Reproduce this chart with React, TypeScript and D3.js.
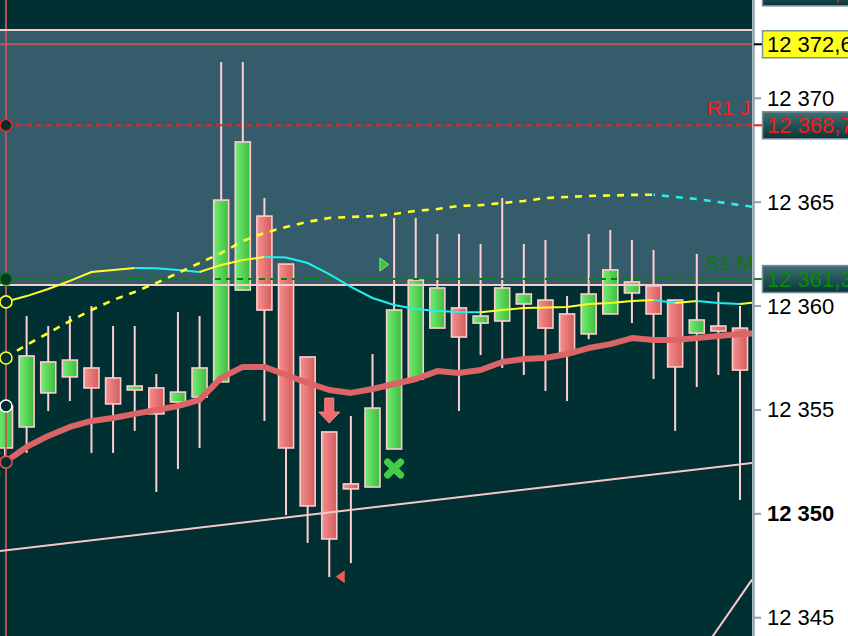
import React from 'react';
import * as d3 from 'd3';

const W = 848;
const H = 636;
const PLOT_RIGHT = 752;

// ---- candle data (index 0..34) ----
const opens = [12353.17, 12354.18, 12355.82, 12356.59, 12357.02, 12356.54, 12355.96, 12356.06, 12355.38, 12355.62, 12356.35, 12360.77, 12364.33, 12362.02, 12357.55, 12353.94, 12351.44, 12351.29, 12353.12, 12356.49, 12358.94, 12359.91, 12359.18, 12359.28, 12360.10, 12360.29, 12359.62, 12358.66, 12359.62, 12360.63, 12360.97, 12360.29, 12358.70, 12359.04, 12358.94];
const highs = [12355.25, 12359.52, 12359.04, 12359.52, 12360.00, 12359.04, 12359.04, 12356.73, 12359.71, 12359.52, 12371.75, 12371.75, 12365.20, 12362.02, 12357.55, 12353.94, 12354.71, 12357.69, 12364.24, 12364.24, 12363.47, 12363.47, 12362.99, 12365.20, 12362.99, 12363.18, 12360.48, 12363.47, 12363.66, 12363.18, 12362.70, 12360.29, 12362.51, 12360.68, 12360.00];
const lows = [12352.69, 12352.93, 12354.95, 12355.43, 12352.93, 12352.93, 12353.99, 12351.05, 12352.16, 12353.17, 12356.35, 12360.77, 12354.47, 12349.94, 12348.60, 12346.96, 12347.63, 12351.29, 12353.12, 12356.49, 12358.94, 12354.95, 12357.64, 12357.02, 12356.68, 12355.91, 12355.43, 12358.41, 12359.62, 12359.18, 12356.49, 12353.99, 12356.10, 12356.68, 12350.67];
const closes = [12355.19, 12357.60, 12357.31, 12357.40, 12356.06, 12355.29, 12356.15, 12354.81, 12355.86, 12357.02, 12365.10, 12367.90, 12359.81, 12353.17, 12350.38, 12348.79, 12351.20, 12355.09, 12359.81, 12361.25, 12360.87, 12358.51, 12359.52, 12360.87, 12360.58, 12358.94, 12357.69, 12360.58, 12361.74, 12361.16, 12359.62, 12357.07, 12359.33, 12358.80, 12356.92];

// ---- indicator lines (index 0..35) ----
const maLine = [12352.49, 12353.22, 12353.75, 12354.18, 12354.47, 12354.61, 12354.81, 12355.00, 12355.19, 12355.48, 12356.54, 12357.07, 12357.07, 12356.68, 12356.30, 12355.96, 12355.82, 12356.01, 12356.25, 12356.49, 12356.87, 12356.78, 12356.92, 12357.31, 12357.45, 12357.50, 12357.69, 12357.98, 12358.17, 12358.46, 12358.37, 12358.37, 12358.46, 12358.56, 12358.66, 12358.70];
const trendSolid = [12360.20, 12360.48, 12360.82, 12361.21, 12361.64, 12361.74, 12361.83, 12361.82, 12361.74, 12361.64, 12361.98, 12362.22, 12362.36, 12362.34, 12362.07, 12361.54, 12360.92, 12360.39, 12360.05, 12359.86, 12359.76, 12359.71, 12359.70, 12359.81, 12359.91, 12359.93, 12359.96, 12360.10, 12360.15, 12360.24, 12360.29, 12360.15, 12360.24, 12360.15, 12360.10, 12360.20];
const trendDashed = [12357.50, 12358.13, 12358.70, 12359.28, 12359.81, 12360.29, 12360.68, 12361.11, 12361.59, 12362.07, 12362.55, 12363.13, 12363.52, 12363.81, 12364.05, 12364.24, 12364.29, 12364.33, 12364.43, 12364.58, 12364.67, 12364.82, 12364.86, 12364.96, 12365.06, 12365.20, 12365.25, 12365.30, 12365.32, 12365.35, 12365.36, 12365.25, 12365.15, 12365.01, 12364.86, 12364.72];

// ---- levels ----
const zoneTop = 12373.29;
const zoneBottom = 12361.01;
const redLevel = 12372.6;
const r1Level = 12368.7;
const s1Level = 12361.3;
const r1Text = 'R1 J';
const s1Text = 'S1 M';

// trend lines: [index, price] pairs
const trendLines = [
  [[0, 12348.24], [34, 12352.38]],
  [[33, 12344.5], [34, 12346.0]],
];

const yTicks = [12345, 12350, 12355, 12360, 12365, 12370];
const boldTick = 12350;
const tickLabels = ['12 345', '12 350', '12 355', '12 360', '12 365', '12 370'];

const priceLabels = [
  { value: 12375.1, text: '12 375,1', kind: 'dark', color: '#ff1414' },
  { value: 12372.6, text: '12 372,6', kind: 'yellow', color: '#000000' },
  { value: 12368.7, text: '12 368,7', kind: 'dark', color: '#ff1414' },
  { value: 12361.3, text: '12 361,3', kind: 'dark', color: '#0a8a0a' },
];

// markers
const arrowDown = { index: 15, price: 12355.57 };
const triRight = { index: 17.55, price: 12362.0 };
const crossMark = { index: 18, price: 12352.18 };
const triLeft = { index: 15, price: 12346.97 };

const YELLOW = '#ffff2a';
const CYAN = '#1ff0f0';
const FONT = "'Liberation Sans', Arial, sans-serif";

const x = d3.scaleLinear().domain([0, 34]).range([5, 740]);
const y = d3.scaleLinear().domain([12345, 12370]).range([617.7, 98.3]);

function colorRuns(values: number[]) {
  const pts = values.map((v, i) => [x(i), y(v)] as [number, number]);
  const runs: { color: string; pts: [number, number][]; offset: number }[] = [];
  let cum = 0;
  for (let i = 0; i < pts.length - 1; i++) {
    const color = values[i + 1] > values[i] ? YELLOW : CYAN;
    const last = runs[runs.length - 1];
    if (last && last.color === color) {
      last.pts.push(pts[i + 1]);
    } else {
      runs.push({ color, pts: [pts[i], pts[i + 1]], offset: cum });
    }
    cum += Math.hypot(pts[i + 1][0] - pts[i][0], pts[i + 1][1] - pts[i][1]);
  }
  return runs;
}

export default function App() {
  const line = d3.line<[number, number]>().x((d) => d[0]).y((d) => d[1]);
  const maPath = d3.line<number>().x((_, i) => x(i)).y((d) => y(d))(maLine) || '';
  const solidRuns = colorRuns(trendSolid);
  const dashedRuns = colorRuns(trendDashed);
  const bw = 15;
  const leftX = x(0) + 1;

  const startCircles = [
    { v: r1Level, stroke: '#ff2020', fill: '#01302f' },
    { v: s1Level, stroke: '#0a7a0a', fill: '#063a22' },
    { v: trendSolid[0], stroke: YELLOW, fill: '#01302f' },
    { v: trendDashed[0], stroke: YELLOW, fill: '#01302f' },
    { v: closes[0], stroke: '#ffffff', fill: '#01302f' },
    { v: maLine[0], stroke: '#e05050', fill: '#01302f' },
  ];

  const extend = (seg: number[][]) => {
    const [a, b] = seg;
    const slope = (b[1] - a[1]) / (b[0] - a[0]);
    const i0 = x.invert(0);
    const i1 = x.invert(PLOT_RIGHT);
    return [
      [x(i0), y(a[1] + slope * (i0 - a[0]))],
      [x(i1), y(a[1] + slope * (i1 - a[0]))],
    ];
  };

  const ax = x(arrowDown.index);
  const ay = y(arrowDown.price);
  const tx = x(triRight.index);
  const ty = y(triRight.price);
  const cx = x(crossMark.index);
  const cy = y(crossMark.price);
  const lx = x(triLeft.index) + 11;
  const ly = y(triLeft.price);

  return (
    <div>
      <style>{`body{margin:0;}`}</style>
      <svg width={W} height={H} style={{ display: 'block' }} fontFamily={FONT}>
        <defs>
          <linearGradient id="gGreen" x1="0" x2="1" y1="0" y2="0">
            <stop offset="0" stopColor="#74ec74" />
            <stop offset="1" stopColor="#3dbd3d" />
          </linearGradient>
          <linearGradient id="gRed" x1="0" x2="1" y1="0" y2="0">
            <stop offset="0" stopColor="#f69090" />
            <stop offset="1" stopColor="#d45c5c" />
          </linearGradient>
          <linearGradient id="gLabel" x1="0" x2="0" y1="0" y2="1">
            <stop offset="0" stopColor="#416f74" />
            <stop offset="1" stopColor="#07373a" />
          </linearGradient>
          <clipPath id="plotClip">
            <rect x={0} y={0} width={PLOT_RIGHT} height={H} />
          </clipPath>
        </defs>

        <rect x={0} y={0} width={W} height={H} fill="#ffffff" />
        <g clipPath="url(#plotClip)">
          <rect x={0} y={0} width={PLOT_RIGHT} height={H} fill="#013033" />
          <rect x={0} y={y(zoneTop)} width={PLOT_RIGHT} height={y(zoneBottom) - y(zoneTop)} fill="#355c6b" />

          {/* candles */}
          {opens.map((o, i) => {
            const c = closes[i];
            const up = c >= o;
            const top = y(Math.max(o, c));
            const bot = y(Math.min(o, c));
            return (
              <g key={i}>
                <line x1={x(i)} x2={x(i)} y1={y(highs[i])} y2={y(lows[i])} stroke="#ffd0d0" strokeWidth={2} />
                <rect
                  x={x(i) - bw / 2}
                  y={top}
                  width={bw}
                  height={Math.max(bot - top, 3)}
                  fill={up ? 'url(#gGreen)' : 'url(#gRed)'}
                  stroke="#ffcccc"
                  strokeWidth={1.6}
                />
              </g>
            );
          })}

          {/* left vertical */}
          <line x1={leftX} x2={leftX} y1={0} y2={H} stroke="#c05858" strokeWidth={2} opacity={0.9} />

          {/* horizontal levels */}
          <line x1={0} x2={PLOT_RIGHT} y1={y(zoneTop)} y2={y(zoneTop)} stroke="#f6cccc" strokeWidth={2} />
          <line x1={0} x2={PLOT_RIGHT} y1={y(redLevel)} y2={y(redLevel)} stroke="#b85a5e" strokeWidth={2} />
          <line x1={0} x2={PLOT_RIGHT} y1={y(zoneBottom)} y2={y(zoneBottom)} stroke="#f6cccc" strokeWidth={2} />
          <line x1={leftX} x2={PLOT_RIGHT} y1={y(r1Level)} y2={y(r1Level)} stroke="#ff1a1a" strokeWidth={2} strokeDasharray="6,4" />
          <line x1={leftX} x2={PLOT_RIGHT} y1={y(s1Level)} y2={y(s1Level)} stroke="#0a7f0a" strokeWidth={2} strokeDasharray="6,5" />

          <text x={750} y={y(r1Level) - 10} textAnchor="end" fontSize={21} fill="#ff1a1a">{r1Text}</text>
          <text x={754} y={y(s1Level) - 9} textAnchor="end" fontSize={21} fill="#0a7a0a">{s1Text}</text>

          {/* trend lines */}
          {trendLines.map((seg, i) => {
            const [p0, p1] = extend(seg);
            return <line key={i} x1={p0[0]} y1={p0[1]} x2={p1[0]} y2={p1[1]} stroke="#f8c8c8" strokeWidth={2} />;
          })}

          {/* MA */}
          <path d={maPath} fill="none" stroke="#dd6466" strokeWidth={6} strokeLinejoin="round" />

          {/* solid two-colour line */}
          {solidRuns.map((r, i) => (
            <path key={i} d={line(r.pts) || ''} fill="none" stroke={r.color} strokeWidth={2} />
          ))}
          {/* dashed two-colour line */}
          {dashedRuns.map((r, i) => (
            <path key={i} d={line(r.pts) || ''} fill="none" stroke={r.color} strokeWidth={2.6} strokeDasharray="7,7" strokeDashoffset={-r.offset} />
          ))}

          {/* start circles */}
          {startCircles.map((c, i) => (
            <circle key={i} cx={leftX} cy={y(c.v)} r={6} fill={c.fill} stroke={c.stroke} strokeWidth={1.6} />
          ))}

          {/* markers */}
          <path
            d={`M${ax - 4.5},${ay} L${ax + 4.5},${ay} L${ax + 4.5},${ay + 14} L${ax + 10.5},${ay + 14} L${ax},${ay + 25} L${ax - 10.5},${ay + 14} L${ax - 4.5},${ay + 14} Z`}
            fill="#f26a6a"
            stroke="#f58a8a"
            strokeWidth={1}
          />
          <path d={`M${tx - 4.5},${ty - 6.5} L${tx + 4.5},${ty} L${tx - 4.5},${ty + 6.5} Z`} fill="#40c040" stroke="#7ae87a" strokeWidth={1} />
          <g stroke="#44cc44" strokeWidth={7} strokeLinecap="round">
            <line x1={cx - 6.5} y1={cy - 6.5} x2={cx + 6.5} y2={cy + 6.5} />
            <line x1={cx - 6.5} y1={cy + 6.5} x2={cx + 6.5} y2={cy - 6.5} />
          </g>
          <path d={`M${lx - 4.5},${ly} L${lx + 4.5},${ly - 6.5} L${lx + 4.5},${ly + 6.5} Z`} fill="#f25a5a" />
        </g>

        {/* right axis */}
        <line x1={753.5} x2={753.5} y1={0} y2={H} stroke="#8ca2ad" strokeWidth={2.5} />
        {yTicks.map((t, i) => (
          <g key={t}>
            <line x1={754} x2={761} y1={y(t)} y2={y(t)} stroke="#8ca2ad" strokeWidth={2} />
            <text x={767} y={y(t) + 7.5} fontSize={22} fill="#000" fontWeight={t === boldTick ? 'bold' : 'normal'}>
              {tickLabels[i]}
            </text>
          </g>
        ))}

        {priceLabels.map((p) => {
          const py = y(p.value);
          return (
            <g key={p.text}>
              <line x1={754} x2={763} y1={py} y2={py} stroke={p.kind === 'yellow' ? '#000' : p.color} strokeWidth={2} />
              <rect
                x={762.5}
                y={py - 13.5}
                width={95}
                height={27}
                fill={p.kind === 'yellow' ? '#ffff1e' : 'url(#gLabel)'}
                stroke="#7b9096"
                strokeWidth={1.5}
              />
              <text x={767} y={py + 8} fontSize={22} fill={p.color}>
                {p.text}
              </text>
            </g>
          );
        })}
      </svg>
    </div>
  );
}
